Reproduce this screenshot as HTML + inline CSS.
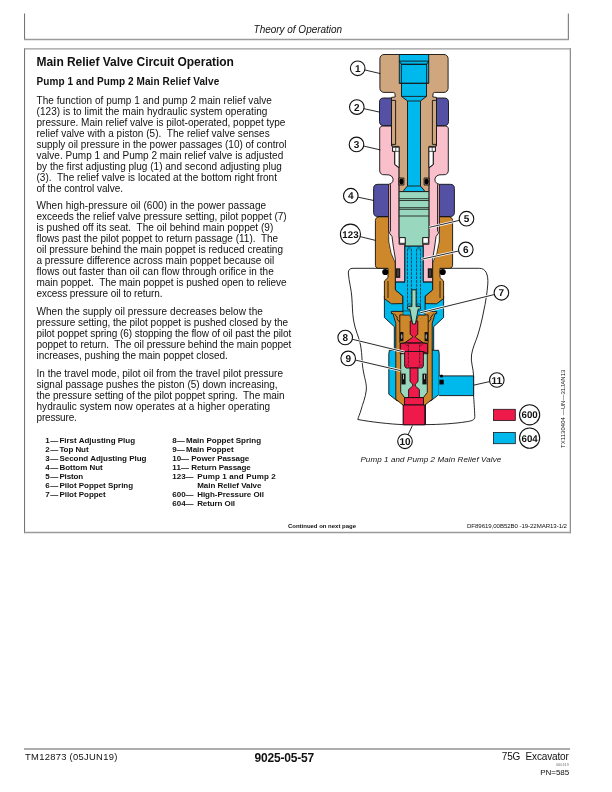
<!DOCTYPE html>
<html><head><meta charset="utf-8"><title>Theory of Operation</title>
<style>
html,body{margin:0;padding:0;background:#fff;}
body{width:612px;height:792px;position:relative;overflow:hidden;font-family:"Liberation Sans",Arial,sans-serif;color:#111;}
.t{position:absolute;white-space:nowrap;line-height:1;margin:0;}
#txt{position:absolute;left:0;top:0;width:612px;height:792px;will-change:transform;}
.ln{position:absolute;background:#808080;}
#fig{position:absolute;left:0;top:0;}
</style></head><body>
<svg style="position:absolute;left:0;top:0" width="612" height="792" viewBox="0 0 612 792" fill="none"><path d="M24.55,13.5 V40.1 M568.35,13.5 V40.1 M24.55,48.2 V533.2" stroke="#747474" stroke-width="1.05"/><path d="M570.35,48.2 V533.2" stroke="#8a8a8a" stroke-width="1.2"/><path d="M24.05,39.5 H568.9 M24.05,48.9 H570.95 M24.05,532.55 H570.95" stroke="#9a9a9a" stroke-width="1.4"/><line x1="24" y1="748.95" x2="570.1" y2="748.95" stroke="#adadad" stroke-width="1.9"/></svg>
<div id="txt">
<div class="t" id="t0" style="left:253.6px;top:25.00px;font-size:10.0px;font-style:italic;letter-spacing:-0.024px;">Theory of Operation</div>
<div class="t" id="t1" style="left:36.5px;top:56.00px;font-size:12.0px;font-weight:bold;letter-spacing:-0.039px;">Main Relief Valve Circuit Operation</div>
<div class="t" id="t2" style="left:36.5px;top:77.00px;font-size:10.0px;font-weight:bold;letter-spacing:0.094px;">Pump 1 and Pump 2 Main Relief Valve</div>
<div class="t" id="t3" style="left:36.5px;top:96.00px;font-size:10.0px;letter-spacing:0.050px;">The function of pump 1 and pump 2 main relief valve</div>
<div class="t" id="t4" style="left:36.5px;top:107.00px;font-size:10.0px;letter-spacing:0.058px;">(123) is to limit the main hydraulic system operating</div>
<div class="t" id="t5" style="left:36.5px;top:118.00px;font-size:10.0px;letter-spacing:0.008px;">pressure. Main relief valve is pilot-operated, poppet type</div>
<div class="t" id="t6" style="left:36.5px;top:129.00px;font-size:10.0px;letter-spacing:0.029px;">relief valve with a piston (5).&nbsp; The relief valve senses</div>
<div class="t" id="t7" style="left:36.5px;top:140.00px;font-size:10.0px;letter-spacing:-0.011px;">supply oil pressure in the power passages (10) of control</div>
<div class="t" id="t8" style="left:36.5px;top:151.00px;font-size:10.0px;letter-spacing:0.019px;">valve. Pump 1 and Pump 2 main relief valve is adjusted</div>
<div class="t" id="t9" style="left:36.5px;top:162.00px;font-size:10.0px;letter-spacing:0.012px;">by the first adjusting plug (1) and second adjusting plug</div>
<div class="t" id="t10" style="left:36.5px;top:173.00px;font-size:10.0px;letter-spacing:0.018px;">(3).&nbsp; The relief valve is located at the bottom right front</div>
<div class="t" id="t11" style="left:36.5px;top:184.00px;font-size:10.0px;letter-spacing:-0.006px;">of the control valve.</div>
<div class="t" id="t12" style="left:36.5px;top:201.00px;font-size:10.0px;letter-spacing:0.058px;">When high-pressure oil (600) in the power passage</div>
<div class="t" id="t13" style="left:36.5px;top:212.00px;font-size:10.0px;letter-spacing:-0.010px;">exceeds the relief valve pressure setting, pilot poppet (7)</div>
<div class="t" id="t14" style="left:36.5px;top:223.00px;font-size:10.0px;letter-spacing:0.037px;">is pushed off its seat.&nbsp; The oil behind main poppet (9)</div>
<div class="t" id="t15" style="left:36.5px;top:234.00px;font-size:10.0px;letter-spacing:0.004px;">flows past the pilot poppet to return passage (11).&nbsp; The</div>
<div class="t" id="t16" style="left:36.5px;top:245.00px;font-size:10.0px;letter-spacing:0.004px;">oil pressure behind the main poppet is reduced creating</div>
<div class="t" id="t17" style="left:36.5px;top:256.00px;font-size:10.0px;letter-spacing:0.010px;">a pressure difference across main poppet because oil</div>
<div class="t" id="t18" style="left:36.5px;top:267.00px;font-size:10.0px;letter-spacing:0.037px;">flows out faster than oil can flow through orifice in the</div>
<div class="t" id="t19" style="left:36.5px;top:278.00px;font-size:10.0px;letter-spacing:-0.039px;">main poppet.&nbsp; The main poppet is pushed open to relieve</div>
<div class="t" id="t20" style="left:36.5px;top:289.00px;font-size:10.0px;letter-spacing:-0.082px;">excess pressure oil to return.</div>
<div class="t" id="t21" style="left:36.5px;top:307.00px;font-size:10.0px;letter-spacing:0.062px;">When the supply oil pressure decreases below the</div>
<div class="t" id="t22" style="left:36.5px;top:318.00px;font-size:10.0px;letter-spacing:-0.014px;">pressure setting, the pilot poppet is pushed closed by the</div>
<div class="t" id="t23" style="left:36.5px;top:329.00px;font-size:10.0px;letter-spacing:-0.051px;">pilot poppet spring (6) stopping the flow of oil past the pilot</div>
<div class="t" id="t24" style="left:36.5px;top:340.00px;font-size:10.0px;letter-spacing:-0.052px;">poppet to return.&nbsp; The oil pressure behind the main poppet</div>
<div class="t" id="t25" style="left:36.5px;top:351.00px;font-size:10.0px;letter-spacing:-0.023px;">increases, pushing the main poppet closed.</div>
<div class="t" id="t26" style="left:36.5px;top:369.00px;font-size:10.0px;letter-spacing:0.005px;">In the travel mode, pilot oil from the travel pilot pressure</div>
<div class="t" id="t27" style="left:36.5px;top:380.00px;font-size:10.0px;letter-spacing:0.008px;">signal passage pushes the piston (5) down increasing,</div>
<div class="t" id="t28" style="left:36.5px;top:391.00px;font-size:10.0px;letter-spacing:-0.035px;">the pressure setting of the pilot poppet spring.&nbsp; The main</div>
<div class="t" id="t29" style="left:36.5px;top:402.00px;font-size:10.0px;letter-spacing:0.036px;">hydraulic system now operates at a higher operating</div>
<div class="t" id="t30" style="left:36.5px;top:413.00px;font-size:10.0px;letter-spacing:-0.173px;">pressure.</div>
<div class="t" id="t31" style="left:45.3px;top:437.00px;font-size:8.0px;font-weight:bold;letter-spacing:0.447px;">1—</div>
<div class="t" id="t32" style="left:59.4px;top:437.00px;font-size:8.0px;font-weight:bold;letter-spacing:-0.000px;">First Adjusting Plug</div>
<div class="t" id="t33" style="left:45.3px;top:446.00px;font-size:8.0px;font-weight:bold;letter-spacing:0.447px;">2—</div>
<div class="t" id="t34" style="left:59.4px;top:446.00px;font-size:8.0px;font-weight:bold;letter-spacing:-0.071px;">Top Nut</div>
<div class="t" id="t35" style="left:45.3px;top:455.00px;font-size:8.0px;font-weight:bold;letter-spacing:0.447px;">3—</div>
<div class="t" id="t36" style="left:59.4px;top:455.00px;font-size:8.0px;font-weight:bold;letter-spacing:-0.008px;">Second Adjusting Plug</div>
<div class="t" id="t37" style="left:45.3px;top:464.00px;font-size:8.0px;font-weight:bold;letter-spacing:0.447px;">4—</div>
<div class="t" id="t38" style="left:59.4px;top:464.00px;font-size:8.0px;font-weight:bold;letter-spacing:-0.027px;">Bottom Nut</div>
<div class="t" id="t39" style="left:45.3px;top:473.00px;font-size:8.0px;font-weight:bold;letter-spacing:0.447px;">5—</div>
<div class="t" id="t40" style="left:59.4px;top:473.00px;font-size:8.0px;font-weight:bold;letter-spacing:-0.151px;">Piston</div>
<div class="t" id="t41" style="left:45.3px;top:482.00px;font-size:8.0px;font-weight:bold;letter-spacing:0.447px;">6—</div>
<div class="t" id="t42" style="left:59.4px;top:482.00px;font-size:8.0px;font-weight:bold;letter-spacing:-0.029px;">Pilot Poppet Spring</div>
<div class="t" id="t43" style="left:45.3px;top:491.00px;font-size:8.0px;font-weight:bold;letter-spacing:0.447px;">7—</div>
<div class="t" id="t44" style="left:59.4px;top:491.00px;font-size:8.0px;font-weight:bold;letter-spacing:-0.034px;">Pilot Poppet</div>
<div class="t" id="t45" style="left:172.3px;top:437.00px;font-size:8.0px;font-weight:bold;letter-spacing:0.047px;">8—</div>
<div class="t" id="t46" style="left:186.0px;top:437.00px;font-size:8.0px;font-weight:bold;letter-spacing:-0.001px;">Main Poppet Spring</div>
<div class="t" id="t47" style="left:172.3px;top:446.00px;font-size:8.0px;font-weight:bold;letter-spacing:0.047px;">9—</div>
<div class="t" id="t48" style="left:186.0px;top:446.00px;font-size:8.0px;font-weight:bold;letter-spacing:0.004px;">Main Poppet</div>
<div class="t" id="t49" style="left:172.3px;top:455.00px;font-size:8.0px;font-weight:bold;letter-spacing:-0.053px;">10—</div>
<div class="t" id="t50" style="left:191.3px;top:455.00px;font-size:8.0px;font-weight:bold;letter-spacing:-0.059px;">Power Passage</div>
<div class="t" id="t51" style="left:172.3px;top:464.00px;font-size:8.0px;font-weight:bold;letter-spacing:0.166px;">11—</div>
<div class="t" id="t52" style="left:191.3px;top:464.00px;font-size:8.0px;font-weight:bold;letter-spacing:-0.082px;">Return Passage</div>
<div class="t" id="t53" style="left:172.3px;top:473.00px;font-size:8.0px;font-weight:bold;letter-spacing:-0.020px;">123—</div>
<div class="t" id="t54" style="left:197.2px;top:473.00px;font-size:8.0px;font-weight:bold;letter-spacing:0.133px;">Pump 1 and Pump 2</div>
<div class="t" id="t55" style="left:197.2px;top:482.00px;font-size:8.0px;font-weight:bold;letter-spacing:-0.039px;">Main Relief Valve</div>
<div class="t" id="t56" style="left:172.3px;top:491.00px;font-size:8.0px;font-weight:bold;letter-spacing:-0.020px;">600—</div>
<div class="t" id="t57" style="left:197.2px;top:491.00px;font-size:8.0px;font-weight:bold;letter-spacing:-0.049px;">High-Pressure Oil</div>
<div class="t" id="t58" style="left:172.3px;top:500.00px;font-size:8.0px;font-weight:bold;letter-spacing:-0.020px;">604—</div>
<div class="t" id="t59" style="left:197.2px;top:500.00px;font-size:8.0px;font-weight:bold;letter-spacing:-0.097px;">Return Oil</div>
<div class="t" id="t60" style="left:288px;top:523.00px;font-size:6.0px;font-weight:bold;letter-spacing:-0.016px;">Continued on next page</div>
<div class="t" id="t61" style="left:467px;top:523.00px;font-size:6.1px;letter-spacing:-0.066px;">DF89619,00B52B0 -19-22MAR13-1/2</div>
<div class="t" id="t62" style="left:360.4px;top:456.00px;font-size:8.0px;font-style:italic;letter-spacing:0.109px;">Pump 1 and Pump 2 Main Relief Valve</div>
<div class="t" id="t63" style="left:25.0px;top:752.00px;font-size:9.4px;letter-spacing:0.297px;">TM12873 (05JUN19)</div>
<div class="t" id="t64" style="left:254.4px;top:752.00px;font-size:12.0px;font-weight:bold;letter-spacing:-0.166px;">9025-05-57</div>
<div class="t" id="t65" style="left:501.8px;top:752.00px;font-size:10.0px;letter-spacing:-0.148px;">75G&nbsp; Excavator</div>
<div class="t" id="t66" style="left:556.2px;top:764.00px;font-size:3.2px;color:#555;letter-spacing:0.392px;">060519</div>
<div class="t" id="t67" style="left:540.3px;top:769.00px;font-size:8.0px;letter-spacing:-0.068px;">PN=585</div>
<div class="t" style="left:559.5px;top:448.4px;font-size:6px;transform-origin:0 0;transform:rotate(-90deg);letter-spacing:0.04px;">TX1130404 —UN—31JAN13</div>
</div>
<svg id="fig" width="612" height="792" viewBox="0 0 612 792" font-family="Liberation Sans, Arial, sans-serif" text-rendering="geometricPrecision">
<path d="M384.8,268.3 L353,268.3 Q348.2,268.3 348.3,273 C349,282 351.5,290 351.8,297 C352.5,306 352.3,312 353.5,320 C355,330 359,337 360.5,345 C362.5,356 361.5,362 363.5,372 C365,380 366.8,384 366.3,390 C365.5,398 362.5,404 361,410 C360,414 358.2,417 357.8,419.5 C370,421.8 390,424.2 403.4,424.6 L425.5,424.6 C440,424.6 455,423.5 466,421.8 C471,421 475,420.5 474.8,416.5 C474.5,408 473.8,400 473.6,395.6 L473.6,375.9 C473.4,368 470.5,362 471.5,355 C472.5,348 475.5,342 477.5,336 C480,328 482,320 483.5,312 C485.8,302 487.2,292 487.8,284 C488.4,275 486.0,268.3 479.5,268.3 L443.2,268.3 Z" fill="#fff" stroke="#111" stroke-width="0.9"/>
<path d="M443.60,296.00 L443.60,317.50 L433.70,326.70 L433.70,349.80 L394.30,349.80 L394.30,326.70 L384.40,317.50 L384.40,296.00 Z" fill="#00B9EC"  stroke="#111" stroke-width="0.9" stroke-linejoin="round"/>
<path d="M433.70,350.30 L438.60,350.30 L439.20,353.60 L439.20,394.20 L431.00,400.80 L397.00,400.80 L388.80,394.20 L388.80,353.60 L389.40,350.30 L394.30,350.30 Z" fill="#00B9EC"  stroke="#111" stroke-width="0.9" stroke-linejoin="round"/>
<rect x="439.2" y="375.9" width="34.4" height="19.7" fill="#00B9EC" stroke="#111" stroke-width="0.9" stroke-linejoin="round"/>
<rect x="438.6" y="376.3" width="1.4" height="18.9" fill="#00B9EC"/>
<rect x="403.4" y="404" width="22.1" height="20.6" fill="#ED1A4A" stroke="#111" stroke-width="0.9" stroke-linejoin="round"/>
<path d="M449.20,216.80 L451.20,217.50 L452.40,219.20 L452.60,220.60 L452.60,265.30 L452.20,266.90 L451.00,268.00 L449.40,268.30 L440.00,268.30 L440.00,277.60 L443.60,281.00 L443.60,298.60 L436.60,303.80 L425.10,303.60 L425.10,296.20 L432.60,289.90 L432.60,262.70 L436.60,253.60 L439.00,242.00 L439.30,232.00 L439.30,216.80 L388.70,216.80 L388.70,232.00 L389.00,242.00 L391.40,253.60 L395.40,262.70 L395.40,289.90 L402.90,296.20 L402.90,303.60 L391.40,303.80 L384.40,298.60 L384.40,281.00 L388.00,277.60 L388.00,268.30 L378.60,268.30 L377.00,268.00 L375.80,266.90 L375.40,265.30 L375.40,220.60 L375.60,219.20 L376.80,217.50 L378.80,216.80 Z" fill="#CE882C"  stroke="#111" stroke-width="0.9" stroke-linejoin="round"/>
<path d="M432.60,282.00 L432.60,289.90 L425.10,296.20 L425.10,311.60 L402.90,311.60 L402.90,296.20 L395.40,289.90 L395.40,282.00 Z" fill="#00B9EC"  stroke="#111" stroke-width="0.9" stroke-linejoin="round"/>
<line x1="440.00" y1="281.00" x2="440.00" y2="298.00" stroke="#1a1a1a" stroke-width="0.9" />
<line x1="388.00" y1="281.00" x2="388.00" y2="298.00" stroke="#1a1a1a" stroke-width="0.9" />
<circle cx="442.70" cy="272.0" r="3.1" fill="#000"/>
<circle cx="385.30" cy="272.0" r="3.1" fill="#000"/>
<path d="M439.30,184.3 L450.20,184.3 Q454.40,184.3 454.40,188.5 L454.40,212.3 Q454.40,216.5 450.20,216.5 L439.30,216.5 Z" fill="#5450A3" stroke="#111" stroke-width="0.9" stroke-linejoin="round"/>
<path d="M388.70,184.3 L377.80,184.3 Q373.60,184.3 373.60,188.5 L373.60,212.3 Q373.60,216.5 377.80,216.5 L388.70,216.5 Z" fill="#5450A3" stroke="#111" stroke-width="0.9" stroke-linejoin="round"/>
<path d="M439.30,228.00 L439.30,232.00 L439.00,242.00 L436.60,253.60 L432.60,262.70 L395.40,262.70 L391.40,253.60 L389.00,242.00 L388.70,232.00 L388.70,228.00 Z" fill="#fff" stroke-width="0.4" stroke="#111" stroke-width="0.9" stroke-linejoin="round"/>
<path d="M445.30,126.00 L447.30,126.60 L448.30,128.00 L448.30,171.00 L447.60,173.20 L445.50,174.60 L439.00,174.90 L436.60,176.00 L435.20,178.00 L434.90,179.60 L435.30,181.60 L436.80,183.40 L439.30,184.30 L439.30,231.00 L438.20,233.50 L436.00,236.50 L434.60,247.00 L432.60,259.30 L432.60,281.80 L423.15,281.80 L423.15,244.30 L428.90,244.30 L428.90,168.00 L433.40,164.60 L433.40,151.40 L435.40,151.40 L435.40,146.50 L436.50,146.00 L436.50,126.00 L391.50,126.00 L391.50,146.00 L392.60,146.50 L392.60,151.40 L394.60,151.40 L394.60,164.60 L399.10,168.00 L399.10,244.30 L404.85,244.30 L404.85,281.80 L395.40,281.80 L395.40,259.30 L393.40,247.00 L392.00,236.50 L389.80,233.50 L388.70,231.00 L388.70,184.30 L391.20,183.40 L392.70,181.60 L393.10,179.60 L392.80,178.00 L391.40,176.00 L389.00,174.90 L382.50,174.60 L380.40,173.20 L379.70,171.00 L379.70,128.00 L380.70,126.60 L382.70,126.00 Z" fill="#F9BFCB"  stroke="#111" stroke-width="0.9" stroke-linejoin="round"/>
<line x1="437.50" y1="184.30" x2="437.50" y2="231.50" stroke="#1a1a1a" stroke-width="0.9" />
<line x1="390.50" y1="184.30" x2="390.50" y2="231.50" stroke="#1a1a1a" stroke-width="0.9" />
<path d="M436.50,98.0 L444.30,98.0 Q448.50,98.0 448.50,102.2 L448.50,121.39999999999999 Q448.50,125.6 444.30,125.6 L436.50,125.6 Z" fill="#5450A3" stroke="#111" stroke-width="0.9" stroke-linejoin="round"/>
<path d="M391.50,98.0 L383.70,98.0 Q379.50,98.0 379.50,102.2 L379.50,121.39999999999999 Q379.50,125.6 383.70,125.6 L391.50,125.6 Z" fill="#5450A3" stroke="#111" stroke-width="0.9" stroke-linejoin="round"/>
<path d="M444.00,54.50 L445.60,54.80 L446.90,55.70 L447.80,57.00 L448.10,58.60 L448.10,88.30 L447.80,89.90 L446.90,91.20 L445.60,92.10 L444.00,92.40 L434.50,92.40 L433.00,93.40 L432.80,97.00 L436.50,97.40 L436.50,145.60 L434.00,146.40 L428.90,146.40 L428.90,191.60 L399.10,191.60 L399.10,146.40 L394.00,146.40 L391.50,145.60 L391.50,97.40 L395.20,97.00 L395.00,93.40 L393.50,92.40 L384.00,92.40 L382.40,92.10 L381.10,91.20 L380.20,89.90 L379.90,88.30 L379.90,58.60 L380.20,57.00 L381.10,55.70 L382.40,54.80 L384.00,54.50 Z" fill="#CFA67E"  stroke="#111" stroke-width="0.9" stroke-linejoin="round"/>
<rect x="432.40" y="100.4" width="4.1" height="44" fill="#CFA67E" stroke="#111" stroke-width="0.9" stroke-linejoin="round"/>
<rect x="391.50" y="100.4" width="4.1" height="44" fill="#CFA67E" stroke="#111" stroke-width="0.9" stroke-linejoin="round"/>
<path d="M428.90,147.20 L435.40,147.20 L435.40,151.40 L433.20,151.40 L433.20,164.40 L428.90,167.60 Z" fill="#fff" stroke="#111" stroke-width="0.9" stroke-linejoin="round"/>
<line x1="428.90" y1="151.40" x2="433.20" y2="151.40" stroke="#1a1a1a" stroke-width="0.7" />
<line x1="432.20" y1="147.20" x2="432.20" y2="151.40" stroke="#1a1a1a" stroke-width="0.7" />
<path d="M399.10,147.20 L392.60,147.20 L392.60,151.40 L394.80,151.40 L394.80,164.40 L399.10,167.60 Z" fill="#fff" stroke="#111" stroke-width="0.9" stroke-linejoin="round"/>
<line x1="399.10" y1="151.40" x2="394.80" y2="151.40" stroke="#1a1a1a" stroke-width="0.7" />
<line x1="395.80" y1="147.20" x2="395.80" y2="151.40" stroke="#1a1a1a" stroke-width="0.7" />
<rect x="424.10" y="178" width="5" height="7" fill="#CFA67E" stroke="#111" stroke-width="0.9" stroke-linejoin="round"/>
<ellipse cx="426.60" cy="181.5" rx="2.1" ry="2.9" fill="#000"/>
<rect x="398.90" y="178" width="5" height="7" fill="#CFA67E" stroke="#111" stroke-width="0.9" stroke-linejoin="round"/>
<ellipse cx="401.40" cy="181.5" rx="2.1" ry="2.9" fill="#000"/>
<path d="M428.70,54.50 L428.70,83.30 L426.50,83.30 L426.50,96.40 L420.50,101.00 L420.50,186.00 L424.20,190.20 L424.20,191.60 L403.80,191.60 L403.80,190.20 L407.50,186.00 L407.50,101.00 L401.50,96.40 L401.50,83.30 L399.30,83.30 L399.30,54.50 Z" fill="#00B9EC"  stroke="#111" stroke-width="0.9" stroke-linejoin="round"/>
<path d="M428.70,61.10 L426.60,64.30 L426.60,83.30 L401.40,83.30 L401.40,64.30 L399.30,61.10 Z" fill="none"  stroke="#111" stroke-width="0.9" stroke-linejoin="round"/>
<path d="M426.60,64.30 L401.40,64.30 Z" fill="none"  stroke="#111" stroke-width="0.9" stroke-linejoin="round"/>
<line x1="399.30" y1="83.30" x2="428.70" y2="83.30" stroke="#1a1a1a" stroke-width="0.9" />
<line x1="401.50" y1="96.40" x2="426.50" y2="96.40" stroke="#1a1a1a" stroke-width="0.9" />
<line x1="407.50" y1="101.00" x2="420.50" y2="101.00" stroke="#1a1a1a" stroke-width="0.9" />
<line x1="407.50" y1="186.00" x2="420.50" y2="186.00" stroke="#1a1a1a" stroke-width="0.9" />
<path d="M428.90,191.60 L428.90,237.60 L422.80,237.60 L422.80,246.20 L405.20,246.20 L405.20,237.60 L399.10,237.60 L399.10,191.60 Z" fill="#99D8BF"  stroke="#111" stroke-width="0.9" stroke-linejoin="round"/>
<line x1="399.10" y1="198.70" x2="428.90" y2="198.70" stroke="#1a1a1a" stroke-width="0.85" />
<line x1="399.10" y1="200.50" x2="428.90" y2="200.50" stroke="#1a1a1a" stroke-width="0.85" />
<line x1="399.10" y1="207.70" x2="428.90" y2="207.70" stroke="#1a1a1a" stroke-width="0.85" />
<line x1="399.10" y1="209.30" x2="428.90" y2="209.30" stroke="#1a1a1a" stroke-width="0.85" />
<line x1="399.10" y1="216.00" x2="428.90" y2="216.00" stroke="#1a1a1a" stroke-width="0.85" />
<rect x="422.80" y="237.6" width="5.6" height="5.7" fill="#fff" stroke="#111" stroke-width="0.9" stroke-linejoin="round"/>
<rect x="399.60" y="237.6" width="5.6" height="5.7" fill="#fff" stroke="#111" stroke-width="0.9" stroke-linejoin="round"/>
<path d="M423.15,246.20 L423.15,282.50 L404.85,282.50 L404.85,246.20 Z" fill="#00B9EC"  stroke="#111" stroke-width="0.9" stroke-linejoin="round"/>
<rect x="405.00" y="281" width="18" height="4" fill="#00B9EC"/>
<line x1="420.50" y1="248.80" x2="420.50" y2="306.00" stroke="#1a1a1a" stroke-width="0.7" stroke-dasharray="2.9 1.0"/>
<line x1="407.50" y1="248.80" x2="407.50" y2="306.00" stroke="#1a1a1a" stroke-width="0.7" stroke-dasharray="2.9 1.0"/>
<line x1="416.60" y1="248.80" x2="416.60" y2="306.00" stroke="#1a1a1a" stroke-width="0.7" stroke-dasharray="2.9 1.0"/>
<line x1="411.40" y1="248.80" x2="411.40" y2="306.00" stroke="#1a1a1a" stroke-width="0.7" stroke-dasharray="2.9 1.0"/>
<circle cx="418.80" cy="248" r="1.1" fill="none" stroke="#1a1a1a" stroke-width="0.45"/>
<circle cx="418.50" cy="304.3" r="1.1" fill="none" stroke="#1a1a1a" stroke-width="0.45"/>
<circle cx="409.20" cy="248" r="1.1" fill="none" stroke="#1a1a1a" stroke-width="0.45"/>
<circle cx="409.50" cy="304.3" r="1.1" fill="none" stroke="#1a1a1a" stroke-width="0.45"/>
<rect x="427.80" y="268.3" width="4.4" height="9.6" fill="#1a1a1a"/>
<rect x="429.75" y="269.8" width="0.5" height="6.6" fill="#c99"/>
<rect x="395.80" y="268.3" width="4.4" height="9.6" fill="#1a1a1a"/>
<rect x="397.75" y="269.8" width="0.5" height="6.6" fill="#c99"/>
<path d="M436.60,311.40 L436.60,313.60 L435.00,313.60 L432.20,323.50 L432.20,399.20 L424.40,405.60 L403.60,405.60 L395.80,399.20 L395.80,323.50 L393.00,313.60 L391.40,313.60 L391.40,311.40 Z" fill="#CE882C"  stroke="#111" stroke-width="0.9" stroke-linejoin="round"/>
<path d="M418.40,314.9 L428.20,314.9 L428.20,342.9" fill="none" stroke="#111" stroke-width="0.9" stroke-linejoin="round"/>
<path d="M409.60,314.9 L399.80,314.9 L399.80,342.9" fill="none" stroke="#111" stroke-width="0.9" stroke-linejoin="round"/>
<path d="M433.60,313.6 L430.40,318.0 L431.20,318.6 L429.00,321.6 L428.20,321.6" fill="none" stroke="#111" stroke-width="0.9" stroke-linejoin="round"/>
<path d="M394.40,313.6 L397.60,318.0 L396.80,318.6 L399.00,321.6 L399.80,321.6" fill="none" stroke="#111" stroke-width="0.9" stroke-linejoin="round"/>
<path d="M425.00,311.00 L425.00,314.90 L418.40,314.90 L415.50,324.00 L412.50,324.00 L409.60,314.90 L403.00,314.90 L403.00,311.00 Z" fill="#00B9EC" stroke-width="0.5" stroke="#111" stroke-width="0.9" stroke-linejoin="round"/>
<path d="M417.80,321.00 L417.80,334.30 L415.40,336.20 L415.40,337.20 L423.40,342.90 L427.80,343.40 L427.80,353.70 L423.40,352.00 L423.40,368.00 L404.60,368.00 L404.60,352.00 L400.20,353.70 L400.20,343.40 L404.60,342.90 L412.60,337.20 L412.60,336.20 L410.20,334.30 L410.20,321.00 Z" fill="#ED1A4A"  stroke="#111" stroke-width="0.9" stroke-linejoin="round"/>
<path d="M427.30,353.70 L427.30,392.40 L423.40,397.60 L404.60,397.60 L400.70,392.40 L400.70,353.70 Z" fill="#99D8BF"  stroke="#111" stroke-width="0.9" stroke-linejoin="round"/>
<path d="M423.40,342.90 L423.40,366.00 L422.00,368.00 L406.00,368.00 L404.60,366.00 L404.60,342.90 Z" fill="#ED1A4A"  stroke="#111" stroke-width="0.9" stroke-linejoin="round"/>
<path d="M423.40,343.20 L427.60,343.40 L427.60,353.70 L423.40,351.50 L404.60,351.50 L400.40,353.70 L400.40,343.40 L404.60,343.20 Z" fill="#ED1A4A"  stroke="#111" stroke-width="0.9" stroke-linejoin="round"/>
<path d="M418.00,368.00 L418.00,381.60 L415.30,384.20 L415.30,386.00 L419.40,389.60 L419.40,397.60 L408.60,397.60 L408.60,389.60 L412.70,386.00 L412.70,384.20 L410.00,381.60 L410.00,368.00 Z" fill="#ED1A4A"  stroke="#111" stroke-width="0.9" stroke-linejoin="round"/>
<path d="M423.50,397.60 L423.50,405.00 L404.50,405.00 L404.50,397.60 Z" fill="#ED1A4A"  stroke="#111" stroke-width="0.9" stroke-linejoin="round"/>
<path d="M424.80,405.00 L424.80,424.80 L403.20,424.80 L403.20,405.00 Z" fill="#ED1A4A"  stroke="#111" stroke-width="0.9" stroke-linejoin="round"/>
<line x1="419.60" y1="344.80" x2="419.60" y2="364.50" stroke="#1a1a1a" stroke-width="0.7" stroke-dasharray="2.9 1.0"/>
<line x1="408.40" y1="344.80" x2="408.40" y2="364.50" stroke="#1a1a1a" stroke-width="0.7" stroke-dasharray="2.9 1.0"/>
<circle cx="420.60" cy="366.3" r="1.6" fill="#ED1A4A" stroke="#1a1a1a" stroke-width="0.45"/>
<circle cx="421.30" cy="344.3" r="1.2" fill="#ED1A4A" stroke="#1a1a1a" stroke-width="0.45"/>
<circle cx="407.40" cy="366.3" r="1.6" fill="#ED1A4A" stroke="#1a1a1a" stroke-width="0.45"/>
<circle cx="406.70" cy="344.3" r="1.2" fill="#ED1A4A" stroke="#1a1a1a" stroke-width="0.45"/>
<rect x="424.60" y="332" width="3.4" height="9.2" fill="#111"/>
<ellipse cx="426.30" cy="336.6" rx="0.8" ry="2.6" fill="#999"/>
<rect x="400.00" y="332" width="3.4" height="9.2" fill="#111"/>
<ellipse cx="401.70" cy="336.6" rx="0.8" ry="2.6" fill="#999"/>
<rect x="422.40" y="373.6" width="4.2" height="10.8" fill="#111"/>
<rect x="424.00" y="374.6" width="1.0" height="4.6" fill="#bbb"/>
<rect x="401.40" y="373.6" width="4.2" height="10.8" fill="#111"/>
<rect x="403.00" y="374.6" width="1.0" height="4.6" fill="#bbb"/>
<circle cx="441.5" cy="376.0" r="1.6" fill="#000"/><rect x="439.4" y="379.7" width="4.3" height="4.8" fill="#000"/>
<path d="M416.10,289.80 L416.10,306.60 L420.50,306.60 L420.50,309.10 L418.20,309.10 L415.40,324.00 L412.60,324.00 L409.80,309.10 L407.50,309.10 L407.50,306.60 L411.90,306.60 L411.90,289.80 Z" fill="#99D8BF"  stroke="#111" stroke-width="0.9" stroke-linejoin="round"/>
<g style="will-change:transform">
<line x1="357.7" y1="68.3" x2="380.4" y2="73.6" stroke="#111" stroke-width="0.9"/>
<ellipse cx="357.7" cy="68.3" rx="7.3" ry="7.3" fill="#fff" stroke="#111" stroke-width="1.1"/>
<text x="357.7" y="71.90" font-size="10.0" font-weight="bold" text-anchor="middle" fill="#111">1</text>
<line x1="356.8" y1="107.1" x2="380.0" y2="112.2" stroke="#111" stroke-width="0.9"/>
<ellipse cx="356.8" cy="107.1" rx="7.3" ry="7.3" fill="#fff" stroke="#111" stroke-width="1.1"/>
<text x="356.8" y="110.70" font-size="10.0" font-weight="bold" text-anchor="middle" fill="#111">2</text>
<line x1="356.5" y1="144.4" x2="380.3" y2="149.9" stroke="#111" stroke-width="0.9"/>
<ellipse cx="356.5" cy="144.4" rx="7.3" ry="7.3" fill="#fff" stroke="#111" stroke-width="1.1"/>
<text x="356.5" y="148.00" font-size="10.0" font-weight="bold" text-anchor="middle" fill="#111">3</text>
<line x1="350.8" y1="195.7" x2="373.9" y2="200.5" stroke="#111" stroke-width="0.9"/>
<ellipse cx="350.8" cy="195.7" rx="7.3" ry="7.3" fill="#fff" stroke="#111" stroke-width="1.1"/>
<text x="350.8" y="199.30" font-size="10.0" font-weight="bold" text-anchor="middle" fill="#111">4</text>
<line x1="466.5" y1="218.7" x2="429.2" y2="227.4" stroke="#fff" stroke-width="2.6"/>
<line x1="466.5" y1="218.7" x2="429.2" y2="227.4" stroke="#111" stroke-width="0.9"/>
<ellipse cx="466.5" cy="218.7" rx="7.3" ry="7.3" fill="#fff" stroke="#111" stroke-width="1.1"/>
<text x="466.5" y="222.30" font-size="10.0" font-weight="bold" text-anchor="middle" fill="#111">5</text>
<line x1="465.8" y1="249.4" x2="421.3" y2="259.3" stroke="#fff" stroke-width="2.6"/>
<line x1="465.8" y1="249.4" x2="421.3" y2="259.3" stroke="#111" stroke-width="0.9"/>
<ellipse cx="465.8" cy="249.4" rx="7.3" ry="7.3" fill="#fff" stroke="#111" stroke-width="1.1"/>
<text x="465.8" y="253.00" font-size="10.0" font-weight="bold" text-anchor="middle" fill="#111">6</text>
<line x1="350.45" y1="234.2" x2="375.5" y2="240.4" stroke="#111" stroke-width="0.9"/>
<ellipse cx="350.45" cy="234.2" rx="10.05" ry="10.05" fill="#fff" stroke="#111" stroke-width="1.1"/>
<text x="350.45" y="237.69" font-size="9.7" font-weight="bold" text-anchor="middle" fill="#111">123</text>
<line x1="501.4" y1="292.8" x2="420.2" y2="312.8" stroke="#fff" stroke-width="2.6"/>
<line x1="501.4" y1="292.8" x2="420.2" y2="312.8" stroke="#111" stroke-width="0.9"/>
<ellipse cx="501.4" cy="292.8" rx="7.3" ry="7.3" fill="#fff" stroke="#111" stroke-width="1.1"/>
<text x="501.4" y="296.40" font-size="10.0" font-weight="bold" text-anchor="middle" fill="#111">7</text>
<line x1="345.2" y1="337.5" x2="404.4" y2="352.0" stroke="#fff" stroke-width="2.6"/>
<line x1="345.2" y1="337.5" x2="404.4" y2="352.0" stroke="#111" stroke-width="0.9"/>
<ellipse cx="345.2" cy="337.5" rx="7.3" ry="7.3" fill="#fff" stroke="#111" stroke-width="1.1"/>
<text x="345.2" y="341.10" font-size="10.0" font-weight="bold" text-anchor="middle" fill="#111">8</text>
<line x1="348.2" y1="358.4" x2="400.5" y2="370.6" stroke="#fff" stroke-width="2.6"/>
<line x1="348.2" y1="358.4" x2="400.5" y2="370.6" stroke="#111" stroke-width="0.9"/>
<ellipse cx="348.2" cy="358.4" rx="7.3" ry="7.3" fill="#fff" stroke="#111" stroke-width="1.1"/>
<text x="348.2" y="362.00" font-size="10.0" font-weight="bold" text-anchor="middle" fill="#111">9</text>
<line x1="496.8" y1="380" x2="473.9" y2="385.1" stroke="#111" stroke-width="0.9"/>
<ellipse cx="496.8" cy="380" rx="7.3" ry="7.3" fill="#fff" stroke="#111" stroke-width="1.1"/>
<text x="496.8" y="383.60" font-size="10.0" font-weight="bold" text-anchor="middle" fill="#111">11</text>
<line x1="405" y1="441.3" x2="412.4" y2="425.6" stroke="#111" stroke-width="0.9"/>
<ellipse cx="405" cy="441.3" rx="7.3" ry="7.3" fill="#fff" stroke="#111" stroke-width="1.1"/>
<text x="405" y="444.90" font-size="10.0" font-weight="bold" text-anchor="middle" fill="#111">10</text>
<rect x="493.4" y="409.3" width="21.9" height="11.3" fill="#ED1A4A" stroke="#1a1a1a" stroke-width="0.8"/>
<rect x="493.4" y="432.4" width="21.9" height="11.3" fill="#00B9EC" stroke="#1a1a1a" stroke-width="0.8"/>
<ellipse cx="529.6" cy="414.8" rx="10.1" ry="10.1" fill="#fff" stroke="#111" stroke-width="1.1"/>
<text x="529.6" y="418.29" font-size="9.7" font-weight="bold" text-anchor="middle" fill="#111">600</text>
<ellipse cx="529.6" cy="438.1" rx="10.1" ry="10.1" fill="#fff" stroke="#111" stroke-width="1.1"/>
<text x="529.6" y="441.59" font-size="9.7" font-weight="bold" text-anchor="middle" fill="#111">604</text>
</g>
</svg>
</body></html>
